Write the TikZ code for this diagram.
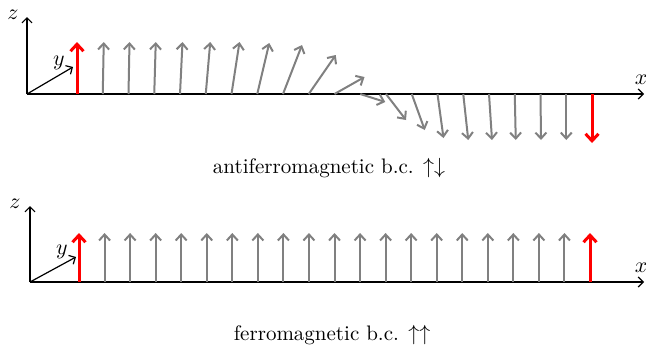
\documentclass[tikz,border=0pt]{standalone}
\usetikzlibrary{arrows.meta}
\begin{document}
\begin{tikzpicture}[x=0.5pt,y=-0.5pt,
  axis/.style={draw=black,line width=0.6pt,-{Straight Barb[length=2.5pt,width=5pt]}},
  spin/.style={draw=gray,line width=1pt,-{Straight Barb[length=3pt,width=5.5pt]}},
  bspin/.style={draw=red,line width=1.5pt,-{Straight Barb[length=3.5pt,width=6.5pt]}},
  lab/.style={inner sep=0pt,font=\fontsize{10.5}{12}\selectfont},
  caption/.style={anchor=base,inner sep=0pt,font=\fontsize{10.5}{12}\selectfont},
]
\useasboundingbox (0,0) rectangle (646,355);

% ---------- top panel: antiferromagnetic ----------
\coordinate (O1) at (27,94);
\coordinate (X1) at (644,94);
\coordinate (Z1) at (27,17);
\coordinate (Y1) at (73,67);
\draw[axis] (O1) -- (X1);
\draw[axis] (O1) -- (Z1);
\draw[axis] (O1) -- (Y1);
\node[lab] (zl1) at (13,15) {$z$};
\node[lab] (yl1) at (59,63) {$y$};
\node[lab] (xl1) at (641,80) {$x$};

\foreach \i/\dx/\dy in {0/0/-52,1/1/-52,2/1/-52,3/1.5/-52,4/2.5/-52,5/4.5/-52,6/8/-52,7/12/-51,8/19/-49,9/27/-39,10/30/-17,11/25/8,12/20/26,13/13/36,14/6/44,15/5/46,16/3/46,17/1/46,18/0.5/46,19/0/46,20/0/49}{
  \coordinate (ab\i) at ({77+25.75*\i},94);
  \coordinate (at\i) at ({77+25.75*\i+\dx},{94+\dy});
}
\foreach \i in {1,...,19}{\draw[spin] (ab\i) -- (at\i);}
\draw[bspin] (ab0) -- (at0);
\draw[bspin] (ab20) -- (at20);

\node[caption] (c1) at (329,173) {antiferromagnetic b.c. $\uparrow\downarrow$};

% ---------- bottom panel: ferromagnetic ----------
\coordinate (O2) at (30,282);
\coordinate (X2) at (644,282);
\coordinate (Z2) at (30,206);
\coordinate (Y2) at (76,257);
\draw[axis] (O2) -- (X2);
\draw[axis] (O2) -- (Z2);
\draw[axis] (O2) -- (Y2);
\node[lab] (zl2) at (15,204) {$z$};
\node[lab] (yl2) at (62,252) {$y$};
\node[lab] (xl2) at (641,268) {$x$};

\foreach \i in {0,...,20}{
  \coordinate (bb\i) at ({79+25.55*\i},282);
  \coordinate (bt\i) at ({79+25.55*\i},233);
}
\foreach \i in {1,...,19}{\draw[spin] (bb\i) -- (bt\i);}
\draw[bspin] (bb0) -- (bt0);
\draw[bspin] (bb20) -- (bt20);

\node[caption] (c2) at (332,340) {ferromagnetic b.c. $\uparrow\uparrow$};
\end{tikzpicture}
\end{document}
